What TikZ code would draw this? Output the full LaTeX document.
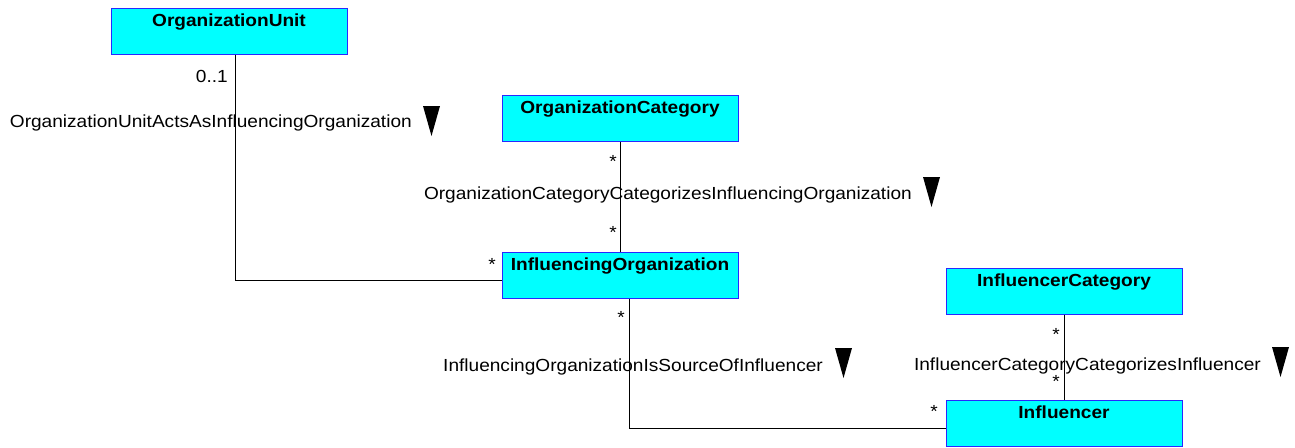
\documentclass[tikz,border=0pt]{standalone}
\usepackage{fontspec}
\setmainfont[FakeStretch=1.09]{Liberation Sans}
\definecolor{classfill}{RGB}{0,255,255}
\definecolor{classline}{RGB}{40,40,255}
\tikzset{
  classbox/.style={draw=classline, fill=classfill, line width=1pt, minimum width=236pt,
    inner sep=0pt, text height=18pt, text depth=28pt, font=\fontsize{17.5}{20}\selectfont\bfseries},
  assoc/.style={line width=0.9pt},
  mult/.style={anchor=base, inner sep=0pt, font=\fontsize{17.5}{20}\selectfont},
  assocname/.style={anchor=base east, inner sep=0pt, font=\fontsize{17.5}{20}\selectfont},
  assocdir/.pic={\fill (0,0) -- (17,0) -- (8.5,30) -- cycle;}
}
\begin{document}
\begin{tikzpicture}[x=1pt, y=-1pt]
		\useasboundingbox (0,0) rectangle (1295,447);
		
		% Classes
		\node[classbox] (ou) at (229,31) {OrganizationUnit};
		\node[classbox] (oc) at (620,118) {OrganizationCategory};
		\node[classbox] (io) at (620,275) {InfluencingOrganization};
		\node[classbox] (ic) at (1064,291) {InfluencerCategory};
		\node[classbox] (inf) at (1064,423) {Influencer};
		
		% Associations
		\draw[assoc] ([xshift=6pt]ou.south) |- ([yshift=-5pt]io.west);
		\draw[assoc] (oc.south) -- (io.north);
		\draw[assoc] ([xshift=9pt]io.south) |- ([yshift=-5pt]inf.west);
		\draw[assoc] (ic.south) -- (inf.north);
		
		% Association names
		\node[assocname] (ouio) at (412,127) {OrganizationUnitActsAsInfluencingOrganization};
		\node[assocname] (ocio) at (912,199) {OrganizationCategoryCategorizesInfluencingOrganization};
		\node[assocname] (ioinf) at (823,371) {InfluencingOrganizationIsSourceOfInfluencer};
		\node[assocname] (icinf) at (1261,370) {InfluencerCategoryCategorizesInfluencer};
		\pic at (423,106) {assocdir};
		\pic at (923,177) {assocdir};
		\pic at (835,348) {assocdir};
		\pic at (1272,347) {assocdir};
		
		% Multiplicities
		\node[mult, anchor=base east] (m1) at (228,82) {0..1};
		\node[mult] (m2) at (492,270) {*};
		\node[mult] (m3) at (613,167) {*};
		\node[mult] (m4) at (613,238) {*};
		\node[mult] (m5) at (621,323) {*};
		\node[mult] (m6) at (934,417) {*};
		\node[mult] (m7) at (1056,340) {*};
		\node[mult] (m8) at (1056,387) {*};
		
\end{tikzpicture}
\end{document}
